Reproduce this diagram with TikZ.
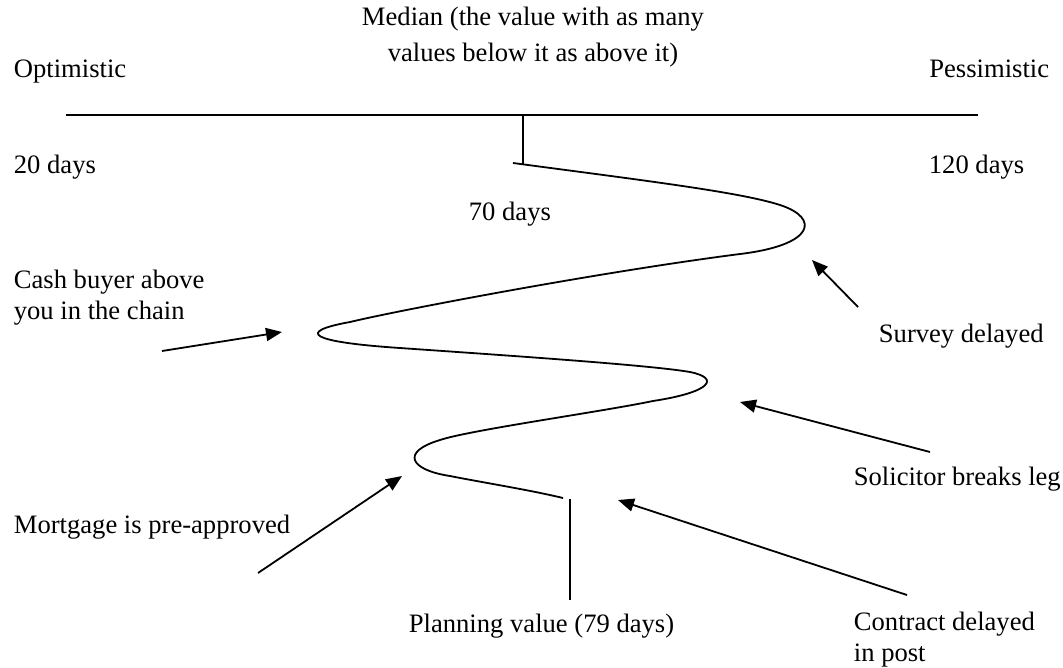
\documentclass[tikz,border=0pt]{standalone}
\usepackage{fontspec}
\setmainfont{Liberation Serif}
\usetikzlibrary{arrows.meta}
\begin{document}
\begin{tikzpicture}[x=1pt, y=-1pt, line width=1.8pt,
	lbl/.style={inner sep=0pt, font=\fontsize{26.6}{31}\selectfont},
	pointer/.style={-{Triangle[length=16pt,width=13pt]}}]
	\useasboundingbox (0,0) rectangle (1063,667);
	% scale line
	\draw (66,115) -- (978,115);
	\draw (522.7,115) -- (522.7,164);
	\node[lbl, align=center, anchor=north, font=\fontsize{26.6}{36}\selectfont] (median) at (533,6.5) {Median (the value with as many\\values below it as above it)};
	\node[lbl, anchor=base west] (optimistic) at (13,77) {Optimistic};
	\node[lbl, anchor=base east] (pessimistic) at (1050,77) {Pessimistic};
	\node[lbl, anchor=base west] (low) at (13,173) {20 days};
	\node[lbl, anchor=base west] (high) at (928,173) {120 days};
	\node[lbl, anchor=base west] (mid) at (468,220) {70 days};
	% the spread of outcomes
	\draw (513,163) .. controls (640,180) and (740,192) .. (780,205)
		.. controls (820,218) and (815,245) .. (740,254)
		.. controls (600,272) and (400,310) .. (350,322)
		.. controls (295,332) and (310,342) .. (400,348)
		.. controls (500,355) and (650,365) .. (690,372)
		.. controls (720,378) and (712,392) .. (653,401)
		.. controls (600,412) and (470,430) .. (440,440)
		.. controls (400,452) and (410,470) .. (450,476)
		.. controls (480,482) and (530,490) .. (563,498);
	\coordinate (plantop) at (570,499);
	\coordinate (planbot) at (570,600);
	\draw (plantop) -- (planbot);
	\node[lbl, anchor=base west] (plan) at (408,632) {Planning value (79 days)};
	% what pushes it either way
	\node[lbl, align=left, anchor=north west] (cash) at (13,269) {Cash buyer above\\you in the chain};
	\node[lbl, anchor=base west] (mortgage) at (13,533) {Mortgage is pre-approved};
	\node[lbl, anchor=base west] (survey) at (878,342) {Survey delayed};
	\node[lbl, anchor=base west] (solicitor) at (853,485) {Solicitor breaks leg};
	\node[lbl, align=left, anchor=north west] (contract) at (853,611) {Contract delayed\\in post};
	\coordinate (cashtail) at (162,351);
	\coordinate (cashtip) at (282,332);
	\coordinate (mortgagetail) at (258,573);
	\coordinate (mortgagetip) at (402,476);
	\coordinate (surveytail) at (858,307);
	\coordinate (surveytip) at (812,260);
	\coordinate (solicitortail) at (930,452);
	\coordinate (solicitortip) at (740,402);
	\coordinate (contracttail) at (907,595);
	\coordinate (contracttip) at (618,500);
	\draw[pointer] (cashtail) -- (cashtip);
	\draw[pointer] (mortgagetail) -- (mortgagetip);
	\draw[pointer] (surveytail) -- (surveytip);
	\draw[pointer] (solicitortail) -- (solicitortip);
	\draw[pointer] (contracttail) -- (contracttip);
\end{tikzpicture}
\end{document}
